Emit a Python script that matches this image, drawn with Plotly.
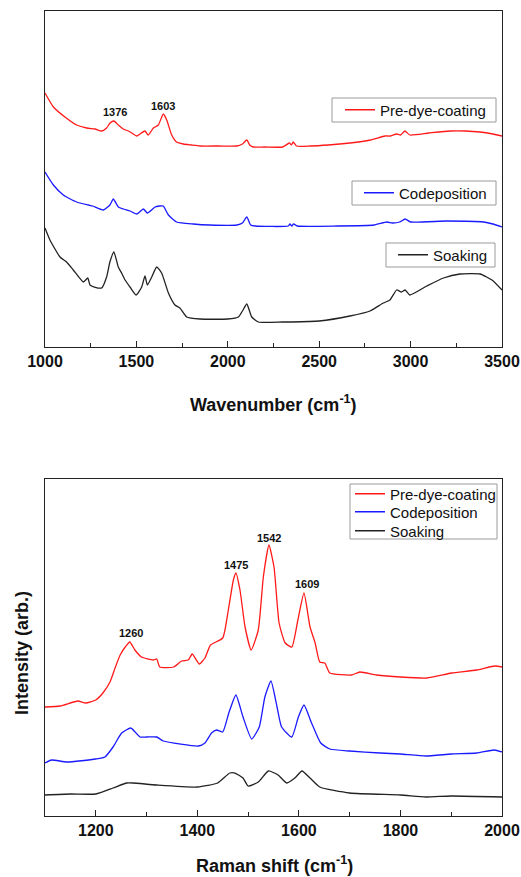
import plotly.graph_objects as go

# ---------------- Top panel (IR) ----------------
ir_pre_x = [1000, 1046, 1109, 1173, 1228, 1274, 1310, 1337, 1356, 1377, 1401, 1428, 1456, 1475,
            1502, 1520, 1547, 1565, 1593, 1620, 1647, 1666, 1693, 1720, 1756, 1800, 1848,
            1950, 2050, 2080, 2104, 2120, 2139, 2200, 2300, 2337, 2348, 2358, 2376, 2450, 2550, 2668, 2780,
            2860, 2887, 2924, 2945, 2969, 2996, 3100, 3216, 3300, 3380, 3450, 3500]
ir_pre_y = [254, 240, 230, 222, 219, 218, 216, 219, 224, 226, 222, 218, 216, 214,
            211, 213, 216, 212, 219, 222, 233, 227, 212, 205, 203, 202, 201,
            201, 201, 203, 207, 202, 200, 200, 200, 204, 202, 205, 201, 201, 202, 204, 207,
            211, 211, 213, 212, 216, 212, 214, 216, 216, 215, 213, 211]

ir_co_x = [1000, 1046, 1100, 1173, 1237, 1260, 1319, 1355, 1374, 1401, 1428, 1465,
           1502, 1538, 1560, 1602, 1625, 1647, 1675, 1720, 1811, 1900, 2050, 2080, 2104, 2125,
           2150, 2330, 2340, 2350, 2360, 2380, 2600, 2800, 2870, 2900, 2940, 2970, 3000, 3200, 3400, 3450, 3500]
ir_co_y = [175, 162, 152, 145, 142, 141, 137, 142, 148, 140, 138, 136,
           133, 138, 134, 140, 141, 141, 132, 125, 123, 122, 122, 124, 130, 122,
           121, 121, 123, 121, 123, 121, 121, 122, 125, 124, 125, 128, 125, 126, 125, 123, 120]

ir_soak_x = [1000, 1027, 1082, 1118, 1155, 1210, 1234, 1246, 1270, 1310, 1337, 1355, 1377, 1401, 1419,
             1438, 1465, 1498, 1529, 1547, 1560, 1584, 1611, 1638, 1675, 1711, 1738, 1775, 1848,
             2000, 2058, 2080, 2104, 2131, 2167, 2300, 2350, 2500, 2668, 2778, 2851, 2887, 2924, 2950, 2970,
             2996, 3089, 3180, 3270, 3380, 3445, 3500]
ir_soak_y = [119, 107, 90, 85, 77, 65, 69, 62, 60, 59, 70, 85, 95, 80, 74,
             67, 60, 52, 60, 71, 62, 70, 80, 74, 54, 42, 39, 30, 28,
             28, 30, 36, 43, 30, 25, 25, 25, 26, 31, 36, 44, 47, 57, 55, 57,
             52, 61, 69, 73, 73, 67, 57]

ir_peak_x = [1383, 1645]
ir_peak_y = [235, 241]
ir_peak_labels = ["1376", "1603"]

# ---------------- Bottom panel (Raman) ----------------
ra_pre_x = [1100, 1130, 1165, 1180, 1200, 1214, 1228, 1238, 1248, 1258, 1267, 1277, 1290, 1313, 1320, 1326,
            1353, 1369, 1382, 1390, 1404, 1415, 1426, 1450, 1461, 1471, 1476, 1484, 1494, 1506, 1520, 1530,
            1541, 1551, 1561, 1573, 1586, 1598, 1610, 1622, 1632, 1641, 1651, 1661, 1704, 1720, 1753, 1800,
            1852, 1901, 1950, 1986, 2000]
ra_pre_y = [109, 110, 115, 113, 116, 123, 134, 148, 161, 169, 174, 166, 159, 156, 157, 149,
            149, 155, 156, 162, 152, 158, 171, 178, 206, 236, 243, 226, 189, 166, 186, 239,
            271, 249, 193, 173, 169, 196, 223, 189, 173, 154, 153, 143, 141, 144, 141, 139,
            138, 143, 146, 150, 149]

ra_co_x = [1100, 1113, 1143, 1200, 1218, 1234, 1251, 1269, 1287, 1300, 1320, 1333, 1402, 1415, 1428, 1438,
           1450, 1462, 1476, 1490, 1507, 1522, 1533, 1545, 1557, 1566, 1586, 1599, 1610, 1625, 1643, 1661,
           1700, 1760, 1800, 1850, 1900, 1950, 1985, 2000]
ra_co_y = [53, 56, 54, 57, 59, 69, 83, 88, 79, 79, 79, 75, 70, 73, 83, 86,
           84, 103, 121, 99, 77, 89, 119, 135, 109, 89, 79, 99, 111, 93, 73, 67,
           65, 63, 62, 60, 62, 63, 66, 64]

ra_soak_x = [1100, 1150, 1200, 1234, 1261, 1273, 1320, 1400, 1440, 1464, 1474, 1490, 1500, 1520, 1540, 1559,
             1576, 1592, 1606, 1622, 1641, 1700, 1800, 1850, 1900, 2000]
ra_soak_y = [21, 22, 22, 28, 33, 33, 31, 29, 33, 43, 43, 38, 30, 34, 45, 41,
             33, 38, 45, 38, 29, 23, 21, 19, 20, 19]

ra_peak_x = [1269, 1476, 1541, 1616]
ra_peak_y = [183, 251, 278, 232]
ra_peak_labels = ["1260", "1475", "1542", "1609"]

names = ["Pre-dye-coating", "Codeposition", "Soaking"]
RED, BLUE, BLACK = "#ff1a1a", "#1a1aff", "#222222"
FONT = "Arial, Liberation Sans, sans-serif"

W, H = 521, 877


def px_x(v):
    return v / W


def px_y(v):
    return 1 - v / H


fig = go.Figure()
line_kw = dict(shape="spline", smoothing=0.5, width=1.3)

fig.add_trace(go.Scatter(x=ir_pre_x, y=ir_pre_y, mode="lines", name=names[0], showlegend=True,
                         line=dict(color=RED, **line_kw), xaxis="x", yaxis="y", legend="legend"))
fig.add_trace(go.Scatter(x=ir_co_x, y=ir_co_y, mode="lines", name=names[1], showlegend=True,
                         line=dict(color=BLUE, **line_kw), xaxis="x", yaxis="y", legend="legend2"))
fig.add_trace(go.Scatter(x=ir_soak_x, y=ir_soak_y, mode="lines", name=names[2], showlegend=True,
                         line=dict(color=BLACK, **line_kw), xaxis="x", yaxis="y", legend="legend3"))

fig.add_trace(go.Scatter(x=ra_pre_x, y=ra_pre_y, mode="lines", name=names[0], showlegend=True,
                         line=dict(color=RED, **line_kw), xaxis="x2", yaxis="y2", legend="legend4"))
fig.add_trace(go.Scatter(x=ra_co_x, y=ra_co_y, mode="lines", name=names[1], showlegend=True,
                         line=dict(color=BLUE, **line_kw), xaxis="x2", yaxis="y2", legend="legend5"))
fig.add_trace(go.Scatter(x=ra_soak_x, y=ra_soak_y, mode="lines", name=names[2], showlegend=True,
                         line=dict(color=BLACK, **line_kw), xaxis="x2", yaxis="y2", legend="legend6"))

xd = [px_x(45), px_x(502)]
top_dom = [px_y(347), px_y(11)]
bot_dom = [px_y(816), px_y(479)]

axis_common = dict(showline=True, linecolor="#222", linewidth=1.2, mirror=True,
                   showgrid=False, zeroline=False, automargin=False)
tickfont = dict(family=FONT, size=16, color="#111", weight="bold")

fig.update_layout(
    width=W, height=H, margin=dict(l=0, r=0, t=0, b=0, autoexpand=False),
    paper_bgcolor="white", plot_bgcolor="white", showlegend=True,
    font=dict(family=FONT, color="#111"),
    xaxis=dict(domain=xd, anchor="y", range=[1000, 3500], tickvals=[1000, 1500, 2000, 2500, 3000, 3500],
               ticks="inside", ticklen=6, tickwidth=1.2, tickcolor="#222", tickfont=tickfont,
               minor=dict(tickvals=[1250, 1750, 2250, 2750, 3250], ticks="inside", ticklen=4,
                          tickwidth=1.2, tickcolor="#222"),
               **axis_common),
    yaxis=dict(domain=top_dom, anchor="x", range=[0, 336], showticklabels=False, ticks="",
               **axis_common),
    xaxis2=dict(domain=xd, anchor="y2", range=[1100, 2000], tickvals=[1200, 1400, 1600, 1800, 2000],
                ticks="inside", ticklen=6, tickwidth=1.2, tickcolor="#222", tickfont=tickfont,
                minor=dict(tickvals=[1300, 1500, 1700, 1900], ticks="inside", ticklen=4,
                           tickwidth=1.2, tickcolor="#222"),
                **axis_common),
    yaxis2=dict(domain=bot_dom, anchor="x2", range=[0, 337], showticklabels=False, ticks="",
                **axis_common),
)

leg_common = dict(bgcolor="rgba(0,0,0,0)", borderwidth=0, visible=True,
                  font=dict(family=FONT, size=15, color="#111"),
                  xanchor="left", yanchor="middle", itemwidth=30)
fig.update_layout(
    legend=dict(x=px_x(340), y=px_y(110), **leg_common),
    legend2=dict(x=px_x(359), y=px_y(193), **leg_common),
    legend3=dict(x=px_x(393), y=px_y(255), **leg_common),
    legend4=dict(x=px_x(350), y=px_y(494), **leg_common),
    legend5=dict(x=px_x(350), y=px_y(512), **leg_common),
    legend6=dict(x=px_x(350), y=px_y(531), **leg_common),
)

# legend frames
boxes = [(332, 98, 496, 122), (352, 181, 496, 205), (386, 243, 495, 267), (350, 484, 497, 539)]
shapes = []
for x0, y0, x1, y1 in boxes:
    shapes.append(dict(type="rect", xref="paper", yref="paper", x0=px_x(x0), x1=px_x(x1),
                       y0=px_y(y1), y1=px_y(y0), line=dict(color="#9a9a9a", width=1),
                       fillcolor="white", layer="above"))
fig.update_layout(shapes=shapes)

annots = []
for px, py, t in zip(ir_peak_x, ir_peak_y, ir_peak_labels):
    annots.append(dict(x=px, y=py, xref="x", yref="y", text=f"<b>{t}</b>", showarrow=False,
                       font=dict(family=FONT, size=11, color="#111")))
for px, py, t in zip(ra_peak_x, ra_peak_y, ra_peak_labels):
    annots.append(dict(x=px, y=py, xref="x2", yref="y2", text=f"<b>{t}</b>", showarrow=False,
                       font=dict(family=FONT, size=11, color="#111")))

title_font = dict(family=FONT, size=18, color="#111")
annots.append(dict(x=px_x(273), y=px_y(403), xref="paper", yref="paper", xanchor="center", yanchor="middle",
                   text="<b>Wavenumber (cm<sup>-1</sup>)</b>", showarrow=False, font=title_font))
annots.append(dict(x=px_x(274), y=px_y(864), xref="paper", yref="paper", xanchor="center", yanchor="middle",
                   text="<b>Raman shift (cm<sup>-1</sup>)</b>", showarrow=False, font=title_font))
annots.append(dict(x=px_x(22), y=px_y(653), xref="paper", yref="paper", xanchor="center", yanchor="middle",
                   textangle=-90, text="<b>Intensity (arb.)</b>", showarrow=False, font=title_font))
fig.update_layout(annotations=annots)

fig.write_html("out.html")
